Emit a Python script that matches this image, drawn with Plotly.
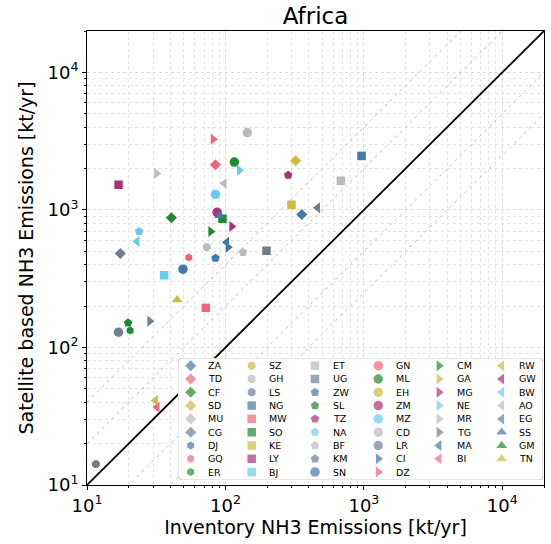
import math
import plotly.graph_objects as go

# ---------------- data ----------------
COUNTRIES = ["ZA", "TD", "CF", "SD", "MU", "CG", "DJ", "GQ", "ER",
             "SZ", "GH", "LS", "NG", "MW", "SO", "KE", "LY", "BJ",
             "ET", "UG", "ZW", "SL", "TZ", "NA", "BF", "KM", "SN",
             "GN", "ML", "EH", "ZM", "MZ", "CD", "LR", "CI", "DZ",
             "CM", "GA", "MG", "NE", "MR", "TG", "MA", "BI",
             "RW", "GW", "BW", "AO", "EG", "SS", "GM", "TN"]

INVENTORY = [356, 84.7, 40.7, 321, None, 17.4, None, 54.3, 20.5,
             None, 73.3, 11.6, 962, 72.1, 95.2, 300, 16.9, 36.1,
             682, 198, 84.7, 19.8, 284, 23.8, 134, None, 49.4,
             None, 116, None, 87.1, 84.7, 144, 16.9, 104.5, 81.5,
             78.3, None, 111, 126, 31.8, 28.4, 102, 32.1,
             31.2, None, 23.0, 97.8, 463, 91, None, 44.8]

SATELLITE = [927, 2130, 877, 2280, None, 482, None, 451, 133,
             None, 536, 14.2, 2470, 194, 863, 1090, 1525, 335,
             1630, 505, 446, 151, 1790, 698, 491, None, 371,
             None, 2230, None, 960, 1298, 3650, 129, 536, 3260,
             698, None, 759, 1940, 1840, 155, 583, 36.7,
             41.1, None, 590, 1560, 1038, 908, None, 222]

LEGEND_COLUMN_SIZES = [9, 9, 9, 9, 8, 8]

TICK_VALS = [10, 100, 1000, 10000]
TICK_TEXT = ["10<sup>1</sup>", "10<sup>2</sup>", "10<sup>3</sup>", "10<sup>4</sup>"]
AXIS_MIN, AXIS_MAX = 10, 20000
RATIO_LINES = [0.25, 0.5, 2, 4]

# ---------------- styles ----------------
BLUE, PINK, GREEN, YELLOW = "#4477AA", "#EE6677", "#228833", "#CCBB44"
CYAN, PURPLE, GRAY, SLATE = "#66CCEE", "#AA3377", "#BBBBBB", "#6F7F93"

STYLE = {
    "ZA": (BLUE, "diamond"), "TD": (PINK, "diamond"), "CF": (GREEN, "diamond"),
    "SD": (YELLOW, "diamond"), "MU": (GRAY, "diamond"), "CG": (SLATE, "diamond"),
    "DJ": (BLUE, "hexagon"), "GQ": (PINK, "hexagon"), "ER": (GREEN, "hexagon"),
    "SZ": (YELLOW, "octagon"), "GH": (GRAY, "octagon"), "LS": (SLATE, "octagon"),
    "NG": (BLUE, "square"), "MW": (PINK, "square"), "SO": (GREEN, "square"),
    "KE": (YELLOW, "square"), "LY": (PURPLE, "square"), "BJ": (CYAN, "square"),
    "ET": (GRAY, "square"), "UG": (SLATE, "square"),
    "ZW": (BLUE, "pentagon"), "SL": (GREEN, "pentagon"), "TZ": (PURPLE, "pentagon"),
    "NA": (CYAN, "pentagon"), "BF": (GRAY, "pentagon"), "KM": (SLATE, "pentagon"),
    "SN": (BLUE, "circle"), "GN": (PINK, "circle"), "ML": (GREEN, "circle"),
    "EH": (YELLOW, "circle"), "ZM": (PURPLE, "circle"), "MZ": (CYAN, "circle"),
    "CD": (GRAY, "circle"), "LR": (SLATE, "circle"),
    "CI": (BLUE, "triangle-right"), "DZ": (PINK, "triangle-right"), "CM": (GREEN, "triangle-right"),
    "GA": (YELLOW, "triangle-right"), "MG": (PURPLE, "triangle-right"), "NE": (CYAN, "triangle-right"),
    "MR": (GRAY, "triangle-right"), "TG": (SLATE, "triangle-right"),
    "MA": (BLUE, "triangle-left"), "BI": (PINK, "triangle-left"), "RW": (YELLOW, "triangle-left"),
    "GW": (PURPLE, "triangle-left"), "BW": (CYAN, "triangle-left"), "AO": (GRAY, "triangle-left"),
    "EG": (SLATE, "triangle-left"),
    "SS": (BLUE, "triangle-up"), "GM": (GREEN, "triangle-up"), "TN": (YELLOW, "triangle-up"),
}
SIZE = {"diamond": 8.5, "hexagon": 8, "octagon": 8.5, "square": 8.5, "pentagon": 9,
        "circle": 9.5, "triangle-right": 9.5, "triangle-left": 9.5, "triangle-up": 9.5}

FONT = "DejaVu Sans"
W, H = 551, 544
ML_, MR_, MT_, MB_ = 87, 7, 31, 59
PW, PH = W - ML_ - MR_, H - MT_ - MB_

fig = go.Figure()

# reference ratio lines
for k in RATIO_LINES:
    fig.add_trace(go.Scatter(x=[AXIS_MIN, AXIS_MAX], y=[k * AXIS_MIN, k * AXIS_MAX], mode="lines",
                             line=dict(color="#bcbcbc", width=1, dash="3px,4px"),
                             showlegend=False, hoverinfo="skip"))
fig.add_trace(go.Scatter(x=[AXIS_MIN, AXIS_MAX], y=[AXIS_MIN, AXIS_MAX], mode="lines",
                         line=dict(color="black", width=1.8), showlegend=False, hoverinfo="skip"))

# country points
for c, xv, yv in zip(COUNTRIES, INVENTORY, SATELLITE):
    if xv is None or yv is None:
        continue
    col, sym = STYLE[c]
    fig.add_trace(go.Scatter(x=[xv], y=[yv], mode="markers", name=c, showlegend=False,
                             marker=dict(symbol=sym, color=col, size=SIZE[sym], line=dict(width=0))))

# ---------------- custom multi-column legend (pixel coordinate overlay axes) ----------------
BOX_L, BOX_R, BOX_T, BOX_B = 178, 543, 358, 480
COL_MARK_X = [190.7, 251.7, 315.0, 378.3, 439.0, 501.7]
TEXT_DX = 16.5
ROW0_Y, ROW_DY = 365.7, 13.3

lx, ly, lsym, lcol, lsize = [], [], [], [], []
annotations = []
idx = 0
for ci, n in enumerate(LEGEND_COLUMN_SIZES):
    for ri in range(n):
        c = COUNTRIES[idx]
        idx += 1
        col, sym = STYLE[c]
        yy = ROW0_Y + ri * ROW_DY
        lx.append(COL_MARK_X[ci]); ly.append(yy); lsym.append(sym); lcol.append(col)
        lsize.append(SIZE[sym])
        annotations.append(dict(x=COL_MARK_X[ci] + TEXT_DX, y=yy, xref="x2", yref="y2", text=c,
                                showarrow=False, xanchor="left", yanchor="middle",
                                font=dict(family=FONT, size=9.5, color="black"), borderpad=0))

fig.add_trace(go.Scatter(x=lx, y=ly, mode="markers", xaxis="x2", yaxis="y2", showlegend=False,
                         hoverinfo="skip",
                         marker=dict(symbol=lsym, color=lcol, size=lsize, line=dict(width=0))))

r = 4
box_path = (f"M {BOX_L + r},{BOX_T} L {BOX_R - r},{BOX_T} Q {BOX_R},{BOX_T} {BOX_R},{BOX_T + r} "
            f"L {BOX_R},{BOX_B - r} Q {BOX_R},{BOX_B} {BOX_R - r},{BOX_B} "
            f"L {BOX_L + r},{BOX_B} Q {BOX_L},{BOX_B} {BOX_L},{BOX_B - r} "
            f"L {BOX_L},{BOX_T + r} Q {BOX_L},{BOX_T} {BOX_L + r},{BOX_T} Z")
shapes = [dict(type="path", path=box_path, xref="x2", yref="y2", layer="below",
               fillcolor="rgba(255,255,255,0.8)", line=dict(color="#cccccc", width=1))]

def px_to_paper_x(p):
    return (p - ML_) / PW

def px_to_paper_y(p):
    return (H - MB_ - p) / PH

minor_vals = [m * 10 ** e for e in range(1, 5) for m in range(2, 10) if m * 10 ** e <= AXIS_MAX]

axis_common = dict(
    type="log", range=[math.log10(AXIS_MIN), math.log10(AXIS_MAX)],
    automargin=False,
    tickmode="array", tickvals=TICK_VALS, ticktext=TICK_TEXT,
    ticks="outside", ticklen=4, tickwidth=1, tickcolor="black",
    showline=True, linecolor="black", linewidth=1, mirror=True,
    showgrid=True, gridcolor="#dcdcdc", gridwidth=1, griddash="dot",
    minor=dict(tickmode="array", tickvals=minor_vals, ticks="outside", ticklen=2,
               tickcolor="black", showgrid=True, gridcolor="#e4e4e4", griddash="dot", gridwidth=1),
    tickfont=dict(family=FONT, size=18, color="black"),
    zeroline=False,
)

fig.update_layout(
    template="none",
    width=W, height=H,
    margin=dict(l=ML_, r=MR_, t=MT_, b=MB_, autoexpand=False),
    paper_bgcolor="white", plot_bgcolor="white",
    font=dict(family=FONT, color="black"),
    title=dict(text="Africa", x=0.5, xref="paper", xanchor="center", y=1 - 16 / H, yref="container",
               yanchor="middle", font=dict(family=FONT, size=23, color="black")),
    xaxis=dict(**axis_common,
               title=dict(text="Inventory NH3 Emissions [kt/yr]", font=dict(family=FONT, size=19),
                          standoff=6)),
    yaxis=dict(**axis_common,
               title=dict(text="Satellite based NH3 Emissions [kt/yr]", font=dict(family=FONT, size=19),
                          standoff=8)),
    xaxis2=dict(domain=[px_to_paper_x(BOX_L), px_to_paper_x(BOX_R)], range=[BOX_L, BOX_R],
                anchor="y2", visible=False, fixedrange=True, automargin=False),
    yaxis2=dict(domain=[px_to_paper_y(BOX_B), px_to_paper_y(BOX_T)], range=[BOX_B, BOX_T],
                anchor="x2", visible=False, fixedrange=True, automargin=False),
    shapes=shapes,
    annotations=annotations,
    showlegend=False,
)

fig.write_html("out.html", config={"displayModeBar": False},
               post_script="document.body.style.margin='0';")
